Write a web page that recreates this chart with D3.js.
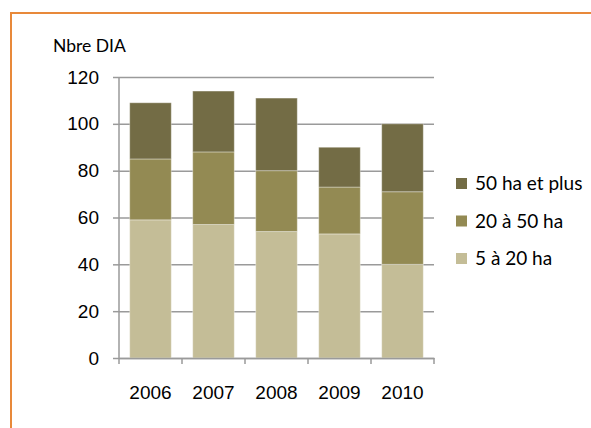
<!DOCTYPE html>
<html>
<head>
<meta charset="utf-8">
<script src="https://cdn.jsdelivr.net/npm/d3@7"></script>
<style>
  body { margin: 0; background: #fff; }
  svg { display: block; font-family: Lato, "Open Sans", sans-serif; }
</style>
</head>
<body>
<div id="chart"></div>
<script>
const years = ['2006', '2007', '2008', '2009', '2010'];
const seriesNames = ['5 à 20 ha', '20 à 50 ha', '50 ha et plus'];
const small = [59, 57, 54, 53, 40];
const medium = [26, 31, 26, 20, 31];
const large = [24, 26, 31, 17, 29];
const yTicks = [0, 20, 40, 60, 80, 100, 120];
const colors = ['#c4bd97', '#938a53', '#736c45'];

const WIDTH = 591;
const HEIGHT = 428;
const LEFT = 119;
const RIGHT = 434;
const TOP = 77;
const BOTTOM = 358;
const FONT_SIZE = 19;

const rows = years.map((year, i) => ({
  year,
  [seriesNames[0]]: small[i],
  [seriesNames[1]]: medium[i],
  [seriesNames[2]]: large[i],
}));

const stacked = d3.stack().keys(seriesNames)(rows);

const svg = d3.create('svg').attr('width', WIDTH).attr('height', HEIGHT);

// orange frame
svg
  .append('rect')
  .attr('x', 11)
  .attr('y', 13)
  .attr('width', WIDTH + 10)
  .attr('height', HEIGHT + 10)
  .attr('fill', 'none')
  .attr('stroke', '#e8893a')
  .attr('stroke-width', 2);

const xScale = d3.scaleBand().domain(years).range([LEFT, RIGHT]).paddingInner(0.34).paddingOuter(0.17);
const xTickScale = d3.scaleBand().domain(years).range([LEFT, RIGHT]);
const yScale = d3.scaleLinear().domain([0, 120]).range([BOTTOM, TOP]);

// gridlines + y axis
const yAxis = svg
  .append('g')
  .attr('transform', `translate(${LEFT}, 0)`)
  .call(
    d3.axisLeft(yScale).tickValues(yTicks).tickSize(6).tickPadding(14)
  );
yAxis.select('.domain').remove();
yAxis.selectAll('.tick line').attr('stroke', '#9a9a9a').attr('stroke-width', 1.5);
yAxis
  .selectAll('.tick')
  .append('line')
  .attr('x1', 0)
  .attr('x2', RIGHT - LEFT)
  .attr('stroke', '#9a9a9a')
  .attr('stroke-width', 1.5);
yAxis.selectAll('.tick text').attr('font-size', FONT_SIZE).attr('fill', '#000');

// bars
svg
  .append('g')
  .selectAll('g')
  .data(stacked)
  .join('g')
  .attr('fill', (d, i) => colors[i])
  .selectAll('rect')
  .data((d) => d)
  .join('rect')
  .attr('x', (d) => xScale(d.data.year))
  .attr('y', (d) => yScale(d[1]))
  .attr('width', xScale.bandwidth())
  .attr('height', (d) => yScale(d[0]) - yScale(d[1]))
  .attr('stroke', 'rgba(255,255,255,0.35)')
  .attr('stroke-width', 1);

// y axis line
svg
  .append('line')
  .attr('x1', LEFT)
  .attr('x2', LEFT)
  .attr('y1', TOP)
  .attr('y2', BOTTOM)
  .attr('stroke', '#9a9a9a')
  .attr('stroke-width', 1.5);

// x axis
const xAxis = svg
  .append('g')
  .attr('transform', `translate(0, ${BOTTOM})`)
  .call(d3.axisBottom(xTickScale).tickSize(0).tickPadding(28));
xAxis.select('.domain').attr('stroke', '#9a9a9a').attr('stroke-width', 1.5);
xAxis.selectAll('.tick text').attr('font-size', FONT_SIZE).attr('fill', '#000');
svg
  .append('g')
  .selectAll('line')
  .data(years.concat(['end']))
  .join('line')
  .attr('x1', (d) => (d === 'end' ? RIGHT : xTickScale(d)))
  .attr('x2', (d) => (d === 'end' ? RIGHT : xTickScale(d)))
  .attr('y1', BOTTOM)
  .attr('y2', BOTTOM + 6)
  .attr('stroke', '#9a9a9a')
  .attr('stroke-width', 1.5);

// axis title
svg
  .append('text')
  .attr('x', 53)
  .attr('y', 52)
  .attr('font-size', 17.5)
  .text('Nbre DIA');

// legend
const legendItems = seriesNames.slice().reverse();
const legend = svg
  .append('g')
  .selectAll('g')
  .data(legendItems)
  .join('g')
  .attr('transform', (d, i) => `translate(456, ${183.5 + i * 37.5})`);
legend
  .append('rect')
  .attr('y', -5.5)
  .attr('width', 11)
  .attr('height', 11)
  .attr('fill', (d) => colors[seriesNames.indexOf(d)]);
legend
  .append('text')
  .attr('x', 19)
  .attr('dy', '0.36em')
  .attr('font-size', FONT_SIZE)
  .text((d) => d);

document.getElementById('chart').appendChild(svg.node());
</script>
</body>
</html>
